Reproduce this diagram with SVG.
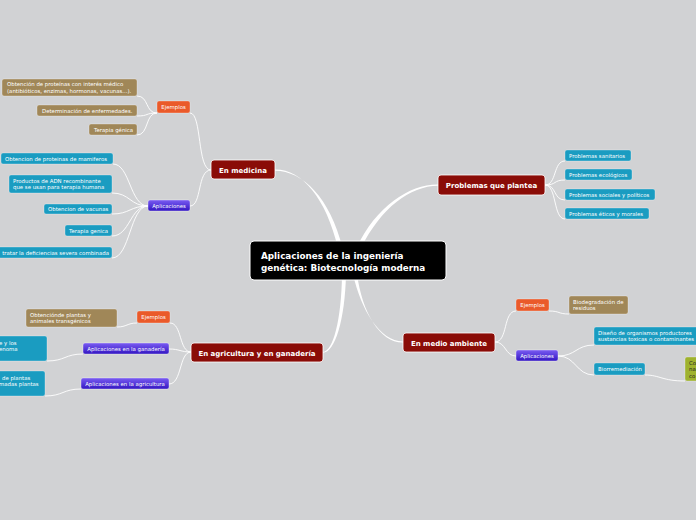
<svg xmlns="http://www.w3.org/2000/svg" width="696" height="520" viewBox="0 0 696 520">
<defs>
<linearGradient id="gp" x1="0" y1="0" x2="0" y2="1">
<stop offset="0" stop-color="#7a5cf2"/>
<stop offset="1" stop-color="#3316c2"/>
</linearGradient>
<style>
text{font-family:"DejaVu Sans","Liberation Sans",sans-serif;fill:#fff}
.s{font-size:5.4px}
.m{font-size:7px;font-weight:bold}
.c{font-size:8.8px;font-weight:bold}
.mid{text-anchor:middle}
.main{fill:#8a0c07;stroke:#fff;stroke-width:0.8}
.ej{fill:#ea5a2a;stroke:#fff;stroke-opacity:0.5;stroke-width:0.6}
.ap{fill:url(#gp);stroke:#fff;stroke-opacity:0.6;stroke-width:0.6}
.bl{fill:#1a9cc1;stroke:#fff;stroke-opacity:0.5;stroke-width:0.6}
.br{fill:#a08758;stroke:#fff;stroke-opacity:0.5;stroke-width:0.6}
.gr{fill:#9fb22e;stroke:#fff;stroke-opacity:0.5;stroke-width:0.6}
.ln{fill:none;stroke:#fff;stroke-width:0.9}
.th{fill:#fff}
</style>
</defs>
<rect width="696" height="520" fill="#d1d2d4"/>
<g id="connectors">
<path class="th" d="M275,169.4 C302,169 326,198 338,248 L342.5,248 C330,198 303,171 275,170.8 Z"/>
<path class="th" d="M438,184.4 C410,184 376,206 356.5,248 L361,248 C381,208 410,186 438,185.8 Z"/>
<path class="th" d="M342,274 C341.5,320 333,351.5 323,351.9 L323,352.7 C335,352.5 345,320 346,274 Z"/>
<path class="th" d="M353,274 C361,310 380,341.4 403,341.4 L403,342.6 C380,343 362,312 357,274 Z"/>
<path class="ln" d="M190,113 C202,113 197,170 211,170"/>
<path class="ln" d="M190,206 C202,206 197,170 211,170"/>
<path class="ln" d="M157,113 C145,113 149,96 137,96"/>
<path class="ln" d="M157,113 C145,113 149,116 137,116"/>
<path class="ln" d="M157,113 C145,113 149,135 137,135"/>
<path class="ln" d="M148,206 C130,206 130,164 113,164"/>
<path class="ln" d="M148,206 C130,206 130,193 112,193"/>
<path class="ln" d="M148,206 C130,206 130,214 112,214"/>
<path class="ln" d="M148,206 C130,206 130,236 112,236"/>
<path class="ln" d="M148,206 C130,206 130,258 112,258"/>
<path class="ln" d="M545,185 C557,185 553,161 565,161"/>
<path class="ln" d="M545,185 C557,185 553,180 565,180"/>
<path class="ln" d="M545,185 C557,185 553,200 565,200"/>
<path class="ln" d="M545,185 C557,185 553,219 565,219"/>
<path class="ln" d="M495,342 C508,342 503,311 516,311"/>
<path class="ln" d="M495,342 C506,342 505,356 516,356"/>
<path class="ln" d="M549,311 C560,311 558,314 569,314"/>
<path class="ln" d="M558,356 C576,356 576,345 594,345"/>
<path class="ln" d="M558,356 C576,356 576,375 594,375"/>
<path class="ln" d="M645,375 C660,375 662,381 685,381"/>
<path class="ln" d="M191,352 C179,352 182,323 170,323"/>
<path class="ln" d="M191,352 C180,352 180,349 169,349"/>
<path class="ln" d="M191,352 C179,352 182,384 169,384"/>
<path class="ln" d="M137,323 C127,323 127,327 117,327"/>
<path class="ln" d="M83,354 C65,354 65,361 47,361"/>
<path class="ln" d="M81,389 C63,389 63,396 45,396"/>
</g>
<g id="center">
<rect x="250" y="241" width="196" height="39" rx="4" fill="#000" stroke="#fff" stroke-width="1"/>
<text class="c" x="261" y="259">Aplicaciones de la ingeniería</text>
<text class="c" x="261" y="271">genética: Biotecnología moderna</text>
</g>
<g id="n-medicina">
<rect class="main" x="211" y="160" width="64" height="19" rx="3"/>
<text class="m mid" x="243" y="172.5">En medicina</text>
</g>
<g id="n-med-ejemplos">
<rect class="ej" x="157" y="101" width="33" height="12" rx="2"/>
<text class="s mid" x="173.5" y="109">Ejemplos</text>
</g>
<g id="n-med-ej1">
<rect class="br" x="2" y="79" width="135" height="17" rx="2"/>
<text class="s" x="7" y="86.3">Obtención de proteínas con interés médico</text>
<text class="s" x="7" y="92.8">(antibióticos, enzimas, hormonas, vacunas...).</text>
</g>
<g id="n-med-ej2">
<rect class="br" x="37" y="105" width="100" height="11" rx="2"/>
<text class="s" x="42" y="112.5">Determinación de enfermedades.</text>
</g>
<g id="n-med-ej3">
<rect class="br" x="89" y="124" width="48" height="11" rx="2"/>
<text class="s" x="94" y="131.5">Terapia génica</text>
</g>
<g id="n-med-aplic">
<rect class="ap" x="148" y="200" width="42" height="11" rx="2"/>
<text class="s mid" x="169" y="207.6">Aplicaciones</text>
</g>
<g id="n-med-ap1">
<rect class="bl" x="1" y="153" width="112" height="11" rx="2"/>
<text class="s" x="5" y="160.5">Obtencion de proteinas de mamiferos</text>
</g>
<g id="n-med-ap2">
<rect class="bl" x="9" y="175" width="103" height="18" rx="2"/>
<text class="s" x="13" y="182.5">Productos de ADN recombinante</text>
<text class="s" x="13" y="189">que se usan para terapia humana</text>
</g>
<g id="n-med-ap3">
<rect class="bl" x="44" y="204" width="68" height="10" rx="2"/>
<text class="s" x="48" y="211">Obtencion de vacunas</text>
</g>
<g id="n-med-ap4">
<rect class="bl" x="65" y="225" width="47" height="11" rx="2"/>
<text class="s" x="69" y="232.5">Terapia genica</text>
</g>
<g id="n-med-ap5">
<rect class="bl" x="-10" y="247" width="122" height="11" rx="2"/>
<text class="s" x="109" y="254.5" text-anchor="end">tratar la deficiencias severa combinada</text>
</g>
<g id="n-problemas">
<rect class="main" x="438" y="175" width="107" height="20" rx="3"/>
<text class="m mid" x="491.5" y="188">Problemas que plantea</text>
</g>
<g id="n-prob1">
<rect class="bl" x="565" y="150" width="66" height="11" rx="2"/>
<text class="s" x="569" y="157.5">Problemas sanitarios</text>
</g>
<g id="n-prob2">
<rect class="bl" x="565" y="169" width="67" height="11" rx="2"/>
<text class="s" x="569" y="176.5">Problemas ecológicos</text>
</g>
<g id="n-prob3">
<rect class="bl" x="565" y="189" width="90" height="11" rx="2"/>
<text class="s" x="569" y="196.5">Problemas sociales y políticos</text>
</g>
<g id="n-prob4">
<rect class="bl" x="565" y="208" width="84" height="11" rx="2"/>
<text class="s" x="569" y="215.5">Problemas éticos y morales</text>
</g>
<g id="n-medio">
<rect class="main" x="403" y="333" width="92" height="19" rx="3"/>
<text class="m mid" x="449" y="345.5">En medio ambiente</text>
</g>
<g id="n-medio-ejemplos">
<rect class="ej" x="516" y="299" width="33" height="12" rx="2"/>
<text class="s mid" x="532.5" y="307">Ejemplos</text>
</g>
<g id="n-medio-ej1">
<rect class="br" x="569" y="296" width="59" height="18" rx="2"/>
<text class="s" x="573" y="303.5">Biodegradación de</text>
<text class="s" x="573" y="310">residuos</text>
</g>
<g id="n-medio-aplic">
<rect class="ap" x="516" y="350" width="42" height="11" rx="2"/>
<text class="s mid" x="537" y="357.6">Aplicaciones</text>
</g>
<g id="n-medio-ap1">
<rect class="bl" x="594" y="327" width="110" height="18" rx="2"/>
<text class="s" x="598" y="334.5">Diseño de organismos productores</text>
<text class="s" x="598" y="341">sustancias toxicas o contaminantes</text>
</g>
<g id="n-medio-ap2">
<rect class="bl" x="594" y="363" width="51" height="12" rx="2"/>
<text class="s" x="598" y="370.8">Biorremediación</text>
</g>
<g id="n-medio-ap2-1">
<rect class="gr" x="685" y="357" width="20" height="24" rx="2"/>
<text class="s" x="689" y="364.5" style="fill:#222">Co</text>
<text class="s" x="689" y="371" style="fill:#222">na</text>
<text class="s" x="689" y="377.5" style="fill:#222">co</text>
</g>
<g id="n-agri">
<rect class="main" x="191" y="343" width="132" height="19" rx="3"/>
<text class="m mid" x="257" y="355.5">En agricultura y en ganadería</text>
</g>
<g id="n-agri-ejemplos">
<rect class="ej" x="137" y="311" width="33" height="12" rx="2"/>
<text class="s mid" x="153.5" y="319">Ejemplos</text>
</g>
<g id="n-agri-ej1">
<rect class="br" x="26" y="309" width="91" height="18" rx="2"/>
<text class="s" x="30" y="316.5">Obtenciónde plantas y</text>
<text class="s" x="30" y="323">animales transgénicos</text>
</g>
<g id="n-agri-gan">
<rect class="ap" x="83" y="343" width="86" height="11" rx="2"/>
<text class="s mid" x="126" y="350.6">Aplicaciones en la ganadería</text>
</g>
<g id="n-agri-gan1">
<rect class="bl" x="-10" y="336" width="57" height="25" rx="2"/>
<text class="s" x="-1" y="344.5">e y los</text>
<text class="s" x="-1" y="351">enoma</text>
</g>
<g id="n-agri-agr">
<rect class="ap" x="81" y="378" width="88" height="11" rx="2"/>
<text class="s mid" x="125" y="385.6">Aplicaciones en la agricultura</text>
</g>
<g id="n-agri-agr1">
<rect class="bl" x="-10" y="371" width="55" height="25" rx="2"/>
<text class="s" x="2" y="379.5">de plantas</text>
<text class="s" x="-1" y="386">madas plantas</text>
</g>
</svg>
